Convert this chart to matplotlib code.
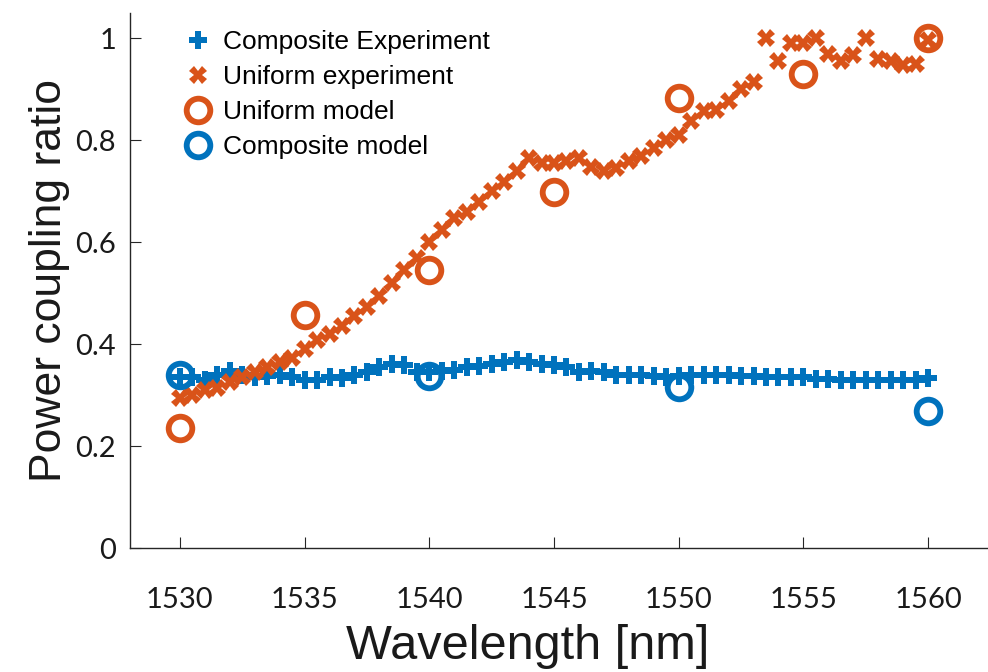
import numpy as np
import matplotlib.pyplot as plt

# Wavelength grid of the measurements (nm)
wl_exp = np.arange(1530, 1560.01, 0.5)

uniform_exp = [0.295, 0.300, 0.310, 0.315, 0.325, 0.335, 0.345, 0.355, 0.365, 0.372,
               0.390, 0.408, 0.420, 0.435, 0.455, 0.473, 0.495, 0.520, 0.545, 0.570,
               0.600, 0.625, 0.648, 0.660, 0.680, 0.700, 0.718, 0.740, 0.765, 0.755,
               0.755, 0.760, 0.765, 0.748, 0.740, 0.745, 0.760, 0.770, 0.785, 0.800,
               0.810, 0.838, 0.858, 0.860, 0.878, 0.900, 0.915, 1.000, 0.955, 0.992,
               0.992, 1.000, 0.970, 0.955, 0.968, 1.000, 0.960, 0.955, 0.947, 0.950,
               0.996]

composite_exp = [0.335, 0.335, 0.330, 0.340, 0.348, 0.340, 0.335, 0.338, 0.340, 0.335,
                 0.330, 0.330, 0.335, 0.333, 0.340, 0.345, 0.355, 0.362, 0.360, 0.345,
                 0.345, 0.348, 0.350, 0.355, 0.358, 0.362, 0.365, 0.368, 0.365, 0.362,
                 0.360, 0.355, 0.345, 0.348, 0.345, 0.340, 0.340, 0.340, 0.338, 0.336,
                 0.338, 0.340, 0.340, 0.340, 0.340, 0.338, 0.338, 0.335, 0.335, 0.335,
                 0.335, 0.332, 0.332, 0.330, 0.330, 0.330, 0.330, 0.330, 0.330, 0.330,
                 0.333]

wl_uniform_model = [1530, 1535, 1540, 1545, 1550, 1555, 1560]
uniform_model = [0.235, 0.457, 0.545, 0.698, 0.884, 0.931, 1.0]

wl_composite_model = [1530, 1540, 1550, 1560]
composite_model = [0.339, 0.337, 0.316, 0.269]

blue = "#0072BD"
orange = "#D95319"

fig = plt.figure(figsize=(9.88, 6.72), dpi=100)
ax = fig.add_axes([0.1316, 0.1845, 0.8684, 0.7962])

ax.plot(wl_exp, composite_exp, "P", color=blue, markersize=13, markeredgewidth=0,
        label="Composite Experiment")
ax.plot(wl_exp, uniform_exp, "X", color=orange, markersize=12.5, markeredgewidth=0,
        label="Uniform experiment")
ax.plot(wl_uniform_model, uniform_model, "o", markerfacecolor="none", markeredgecolor=orange,
        markersize=17, markeredgewidth=4.2, label="Uniform model")
ax.plot(wl_composite_model, composite_model, "o", markerfacecolor="none", markeredgecolor=blue,
        markersize=17, markeredgewidth=4.2, label="Composite model")

ax.set_xlim(1528, 1562.4)
ax.set_ylim(0, 1.05)
ax.set_xticks([1530, 1535, 1540, 1545, 1550, 1555, 1560])
ax.set_yticks([0, 0.2, 0.4, 0.6, 0.8, 1])
ax.set_yticklabels(["0", "0.2", "0.4", "0.6", "0.8", "1"])

ax.spines["top"].set_visible(False)
ax.spines["right"].set_visible(False)
for s in ["left", "bottom"]:
    ax.spines[s].set_color("#262626")
    ax.spines[s].set_linewidth(1.0)

ax.tick_params(direction="in", length=8, width=0.8, colors="#262626")
ax.tick_params(axis="x", pad=28)
ax.tick_params(axis="y", pad=10)
for lab in ax.get_xticklabels() + ax.get_yticklabels():
    lab.set_family(["Lato", "DejaVu Sans"])
    lab.set_fontsize(21)
    lab.set_color("#1a1a1a")

ax.set_xlabel("Wavelength [nm]", fontsize=35, family="Liberation Sans", color="#1a1a1a")
ax.xaxis.set_label_coords(0.463, -0.142)
ax.set_ylabel("Power coupling ratio", fontsize=32, family="Liberation Sans", color="#1a1a1a", labelpad=4)

ax.legend(loc="upper left", bbox_to_anchor=(0.042, 1.003), frameon=False,
          prop={"family": "Liberation Sans", "size": 19}, handletextpad=0.45,
          labelspacing=0.42, handlelength=1.0, borderaxespad=0.3)

fig.savefig("out.png", dpi=100)
